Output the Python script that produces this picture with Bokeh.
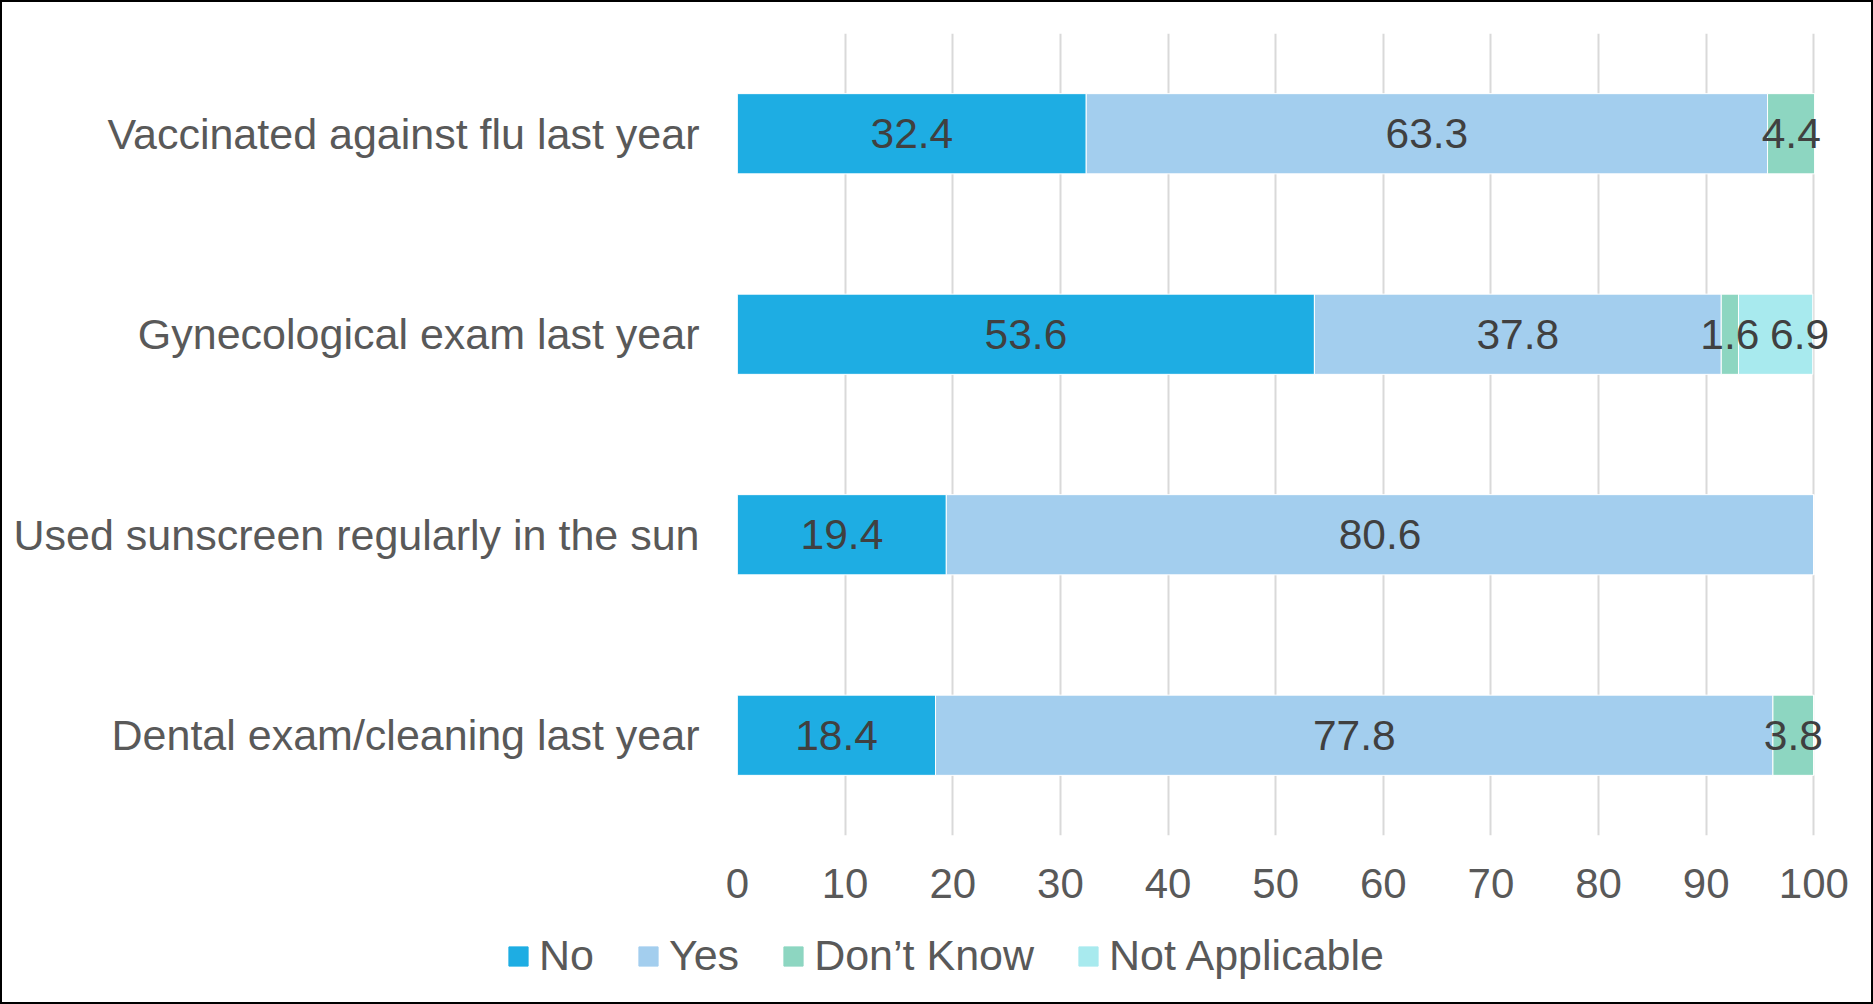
from bokeh.plotting import figure
from bokeh.models import ColumnDataSource, FactorRange, Range1d, FixedTicker, Legend, LegendItem
from bokeh.core.properties import value
from bokeh.embed import file_html
from bokeh.resources import INLINE

categories = ["Vaccinated against flu last year", "Gynecological exam last year",
              "Used sunscreen regularly in the sun", "Dental exam/cleaning last year"]
no = [32.4, 53.6, 19.4, 18.4]
yes = [63.3, 37.8, 80.6, 77.8]
dont_know = [4.4, 1.6, 0.0, 3.8]
not_applicable = [0.0, 6.9, 0.0, 0.0]
series_names = ["No", "Yes", "Don\u2019t Know", "Not Applicable"]
series_keys = ["no", "yes", "dk", "na"]
colors = ["#1EADE3", "#A3CEEE", "#8DD6C1", "#A8EAEE"]
x_ticks = [0, 10, 20, 30, 40, 50, 60, 70, 80, 90, 100]

# label nudges in screen px (style only): (category index, series index) -> dx
label_nudge = {(1, 3): 24}

FONT = "Liberation Sans"
BORDER = "2px solid black"

source = ColumnDataSource(dict(cat=categories, no=no, yes=yes, dk=dont_know, na=not_applicable))

p = figure(width=1873, height=920, output_backend="svg", toolbar_location=None,
           y_range=FactorRange(factors=categories[::-1]), x_range=Range1d(0, 103.5),
           min_border_left=735, min_border_right=24, min_border_top=31, min_border_bottom=87)
p.styles = {"border-top": BORDER, "border-left": BORDER, "border-right": BORDER,
            "box-sizing": "border-box"}
p.outline_line_color = None
p.background_fill_color = "white"

rends = p.hbar_stack(series_keys, y="cat", height=0.4, color=colors, source=source,
                     line_color="white", line_width=1)

# data labels
series_vals = [no, yes, dont_know, not_applicable]
lx, ly, lt, lo = [], [], [], []
for i, c in enumerate(categories):
    left = 0.0
    for j, vals in enumerate(series_vals):
        v = vals[i]
        if v > 0:
            lx.append(left + v / 2)
            ly.append(c)
            lt.append(f"{v:.1f}")
            lo.append(label_nudge.get((i, j), 0))
        left += v
p.text(x="x", y="y", text="t", x_offset="o",
       source=ColumnDataSource(dict(x=lx, y=ly, t=lt, o=lo)),
       text_align="center", text_baseline="middle",
       text_font=value(FONT), text_font_size="42.5px", text_color="#404040")

p.xaxis.ticker = FixedTicker(ticks=x_ticks)
for ax in (p.xaxis, p.yaxis):
    ax.axis_line_color = None
    ax.major_tick_line_color = None
    ax.minor_tick_line_color = None
    ax.major_tick_out = 0
    ax.major_tick_in = 0
    ax.major_label_text_font = FONT
    ax.major_label_text_color = "#595959"
p.xaxis.major_label_text_font_size = "42px"
p.yaxis.major_label_text_font_size = "43px"
p.xaxis.major_label_standoff = 33
p.yaxis.major_label_standoff = 38

p.xgrid.grid_line_color = "#D9D9D9"
p.xgrid.grid_line_width = 2
p.ygrid.grid_line_color = None

# legend strip below the chart (separate root, so its frame is not aligned with the chart's)
lf = figure(width=1873, height=84, output_backend="svg", toolbar_location=None,
            x_range=Range1d(0, 1), y_range=Range1d(0, 1),
            x_axis_location=None, y_axis_location=None, min_border=0)
lf.styles = {"border-bottom": BORDER, "border-left": BORDER, "border-right": BORDER,
             "box-sizing": "border-box"}
lf.outline_line_color = None
lf.grid.visible = False
# legend handles: zero-size bars, only their colours are shown in the legend
swatches = [lf.hbar(y=[0.5], left=[0], right=[0], height=0, color=c) for c in colors]
legend = Legend(items=[LegendItem(label=n, renderers=[r]) for n, r in zip(series_names, swatches)],
                orientation="horizontal", location=(504, 24),
                glyph_width=24, glyph_height=24, label_standoff=9, spacing=42,
                padding=0, margin=0, border_line_color=None, background_fill_alpha=0,
                label_text_font=FONT, label_text_font_size="43px", label_text_color="#595959")
lf.add_layout(legend, "center")

open("out.html", "w").write(file_html([p, lf], INLINE))
